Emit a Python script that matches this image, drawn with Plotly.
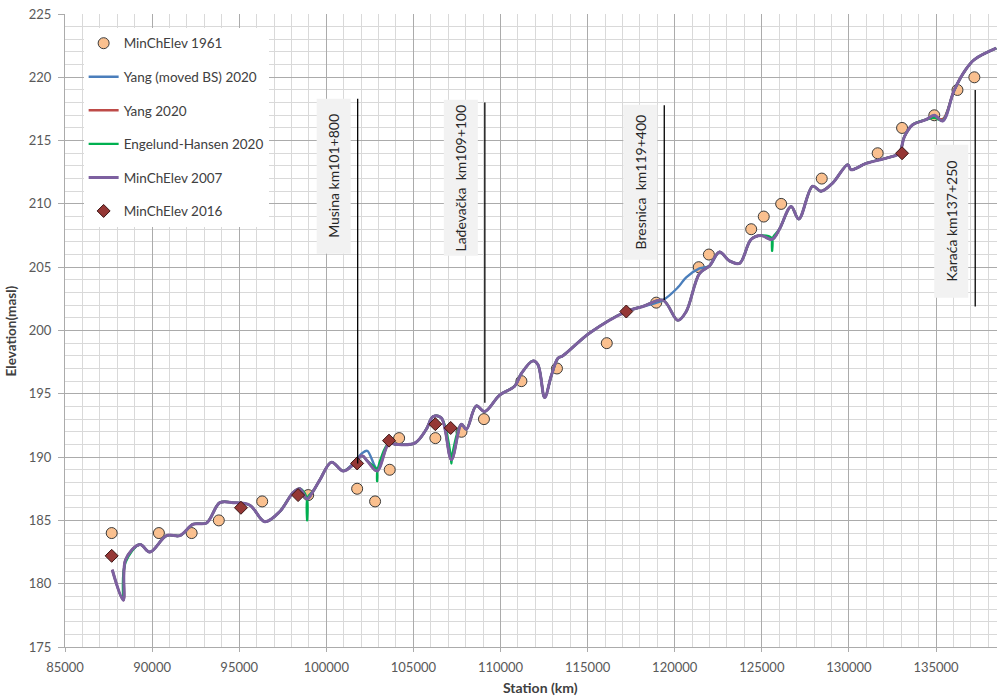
import plotly.graph_objects as go

# ---- thalweg profiles (station in m, elevation in m a.s.l.) ----
STATION = [87713, 88345, 88480, 89300, 89875, 90830, 91600, 92360, 93125, 93890,
           94655, 95610, 96470, 97330, 98095, 98480, 98900, 99240, 99630, 100300,
           100965, 101540, 102050, 102350, 102915, 103600, 104025, 105075, 105740, 106125,
           106600, 107180, 107755, 108040, 108610, 109090, 109950, 110810, 111195, 111860,
           112150, 112535, 112910, 113295, 113580, 115115, 117215, 118170, 119320, 120180,
           120660, 121420, 121995, 122570, 123140, 123720, 124385, 124960, 125590, 126010,
           126680, 127120, 127920, 128400, 129070, 129930, 130125, 130985, 132510, 132895,
           133180, 133660, 134425, 134900, 135380, 136050, 136700, 137200, 138460]

ELEV_2007 = [181.1, 178.7, 181.9, 183.1, 182.5, 183.8, 183.8, 184.7, 184.8, 186.4,
             186.4, 186.2, 184.9, 185.7, 187.2, 187.5, 186.7, 187.3, 188.2, 189.6,
             188.9, 189.4, 190.1, 189.7, 188.9, 191.1, 191.0, 191.1, 192.2, 193.2,
             193.1, 189.8, 192.6, 192.2, 194.05, 193.6, 194.9, 195.6, 196.6, 197.6,
             197.3, 194.7, 196.4, 197.8, 198.0, 199.8, 201.5, 201.9, 202.4, 200.8,
             201.5, 204.5, 205.1, 206.2, 205.5, 205.3, 207.2, 207.5, 207.2, 208.0,
             209.8, 208.8, 211.4, 211.0, 211.65, 213.1, 212.7, 213.2, 213.75, 214.0,
             215.3, 216.25, 216.65, 217.0, 216.55, 219.0, 220.6, 221.4, 222.3]

ELEV_YANG_2020 = [181.1, 178.7, 181.9, 183.1, 182.5, 183.8, 183.8, 184.7, 184.8, 186.4,
                  186.4, 186.2, 184.9, 185.7, 187.2, 187.5, 186.7, 187.3, 188.2, 189.6,
                  188.9, 189.4, 190.1, 189.7, 188.9, 191.1, 191.0, 191.1, 192.2, 193.2,
                  193.1, 189.8, 192.6, 192.2, 194.05, 193.6, 194.9, 195.6, 196.6, 197.6,
                  197.3, 194.7, 196.4, 197.8, 198.0, 199.8, 201.5, 201.9, 202.4, 200.8,
                  201.5, 204.5, 205.1, 206.2, 205.5, 205.3, 207.2, 207.5, 207.2, 208.0,
                  209.8, 208.8, 211.4, 211.0, 211.65, 213.1, 212.7, 213.2, 213.75, 214.0,
                  215.3, 216.25, 216.65, 216.9, 216.7, 219.0, 220.6, 221.4, 222.3]

ELEV_YANG_MOVED_2020 = [181.1, 178.7, 181.9, 183.1, 182.5, 183.8, 183.8, 184.7, 184.8, 186.4,
                        186.4, 186.2, 184.9, 185.7, 187.2, 187.5, 186.7, 187.3, 188.2, 189.6,
                        188.9, 189.5, 190.3, 190.5, 189.1, 191.1, 191.0, 191.1, 192.2, 193.2,
                        193.1, 189.8, 192.6, 192.2, 194.05, 193.6, 194.9, 195.6, 196.6, 197.6,
                        197.3, 194.7, 196.4, 197.8, 198.0, 199.8, 201.5, 201.9, 202.4, 203.4,
                        204.2, 204.9, 205.1, 206.2, 205.5, 205.3, 207.2, 207.5, 207.2, 208.0,
                        209.8, 208.8, 211.4, 211.0, 211.65, 213.1, 212.7, 213.2, 213.75, 214.0,
                        215.3, 216.25, 216.65, 217.0, 216.55, 219.0, 220.6, 221.4, 222.3]

# Engelund-Hansen run has its own, denser station list around the local scour pits
STATION_EH = [88345, 88480, 89300, 89875, 90830, 91600, 92360, 93125, 93890,
              94655, 95610, 96470, 97330, 98095, 98480, 98870, 98900, 98930, 99240, 99630, 100300,
              100965, 101540, 102050, 102350, 102885, 102915, 102945, 103600, 104025, 105075, 105740, 106125,
              106600, 107150, 107180, 107210, 107755, 108040, 108610, 109090, 109950, 110810, 111195, 111860,
              112150, 112535, 112910, 113295, 113580, 115115, 117215, 118170, 119320, 120180,
              120660, 121420, 121995, 122570, 123140, 123720, 124385, 124960, 125560, 125590, 125620, 126010,
              126680, 127120, 127920, 128400, 129070, 129930, 130125, 130985, 132510, 132895,
              133180, 133660, 134425, 134900, 135380, 136050, 136700, 137200, 138460]

ELEV_EH_2020 = [178.8, 181.7, 183.1, 182.5, 183.8, 183.8, 184.7, 184.8, 186.4,
                186.4, 186.2, 184.9, 185.7, 187.2, 187.5, 186.8, 185.0, 186.8, 187.3, 188.2, 189.6,
                188.9, 189.4, 190.1, 189.7, 189.0, 188.1, 189.0, 191.1, 191.0, 191.1, 192.2, 193.2,
                193.1, 190.0, 189.5, 190.0, 192.6, 192.2, 194.05, 193.6, 194.9, 195.6, 196.6, 197.6,
                197.3, 194.7, 196.4, 197.8, 198.0, 199.8, 201.5, 201.9, 202.4, 200.8,
                201.5, 204.5, 205.1, 206.2, 205.5, 205.3, 207.2, 207.5, 207.3, 206.3, 207.3, 208.0,
                209.8, 208.8, 211.4, 211.0, 211.65, 213.1, 212.7, 213.2, 213.75, 214.0,
                215.3, 216.25, 216.65, 216.8, 216.6, 219.0, 220.6, 221.4, 222.3]

# ---- surveyed minimum channel elevations ----
ST_1961 = [87680, 90390, 92270, 93830, 96320, 98960, 101770, 102800, 103640, 104180,
           106260, 107760, 109050, 111200, 113240, 116100, 118940, 121380, 121960, 124390,
           125110, 126110, 128440, 131650, 133050, 134900, 136230, 137200]
EL_1961 = [184.0, 184.0, 184.0, 185.0, 186.5, 187.0, 187.5, 186.5, 189.0, 191.5,
           191.5, 192.0, 193.0, 196.0, 197.0, 199.0, 202.2, 205.0, 206.0, 208.0,
           209.0, 210.0, 212.0, 214.0, 216.0, 217.0, 219.0, 220.0]

ST_2016 = [87680, 95100, 98380, 101770, 103600, 106260, 107140, 117220, 133050]
EL_2016 = [182.2, 186.0, 187.0, 189.5, 191.3, 192.6, 192.3, 201.5, 214.0]

# ---- bridges ----
BRIDGE_NAMES = ["Musina km101+800", "Lađevačka  km109+100", "Bresnica  km119+400", "Karaća km137+250"]
BRIDGE_ST = [101800, 109100, 119400, 137250]

FONT = "Lato"
TXT = "#404040"

fig = go.Figure()

fig.add_trace(go.Scatter(
    x=ST_1961, y=EL_1961, mode="markers", name="MinChElev 1961", legendgroup="a",
    marker=dict(symbol="circle", size=11, color="#FAC08F", line=dict(color="#3a3a3a", width=1))))

line_series = [
    ("Yang (moved BS) 2020", STATION, ELEV_YANG_MOVED_2020, "#4A7EBB", 2.4, "b"),
    ("Yang 2020", STATION, ELEV_YANG_2020, "#BE4B48", 2.4, "c"),
    ("Engelund-Hansen 2020", STATION_EH, ELEV_EH_2020, "#00B050", 2.4, "d"),
    ("MinChElev 2007", STATION, ELEV_2007, "#7D60A0", 3.0, "e"),
]
for name, st, elev, color, width, grp in line_series:
    fig.add_trace(go.Scatter(
        x=st, y=elev, mode="lines", name=name, legendgroup=grp,
        line=dict(color=color, width=width, shape="spline", smoothing=1.0)))

fig.add_trace(go.Scatter(
    x=ST_2016, y=EL_2016, mode="markers", name="MinChElev 2016", legendgroup="f",
    marker=dict(symbol="diamond", size=10, color="#953735", line=dict(color="#3a1414", width=1))))

# bridge marker lines with their label boxes
bridge_line_span = [(189.5, 218.3), (194.3, 218.0), (202.4, 217.8), (201.9, 219.0)]
bridge_box_span = [(99, 254), (100, 256), (105, 260), (145, 298)]
for name, st, (y0, y1), (b0, b1) in zip(BRIDGE_NAMES, BRIDGE_ST, bridge_line_span, bridge_box_span):
    fig.add_shape(type="line", x0=st, x1=st, y0=y0, y1=y1, xref="x", yref="y",
                  line=dict(color="#000000", width=1.3), layer="above")
    yt = 175 + (647.3 - b0) / 12.66
    yb = 175 + (647.3 - b1) / 12.66
    fig.add_shape(type="rect", xref="x", yref="y", xsizemode="pixel", xanchor=st,
                  x0=-41, x1=-7, y0=yb, y1=yt, fillcolor="#F2F2F2",
                  line=dict(width=0), layer="above")
    fig.add_annotation(x=st, y=(yt + yb) / 2, xref="x", yref="y", text=name,
                       textangle=-90, showarrow=False, xshift=-24,
                       font=dict(family=FONT, size=14, color="#262626"))

# axis titles
fig.add_annotation(x=-0.058, y=0.5, xref="paper", yref="paper", text="<b>Elevation(masl)</b>",
                   textangle=-90, showarrow=False, xanchor="center", yanchor="middle",
                   font=dict(family=FONT, size=13.5, color=TXT))
fig.add_annotation(x=0.51, y=-0.064, xref="paper", yref="paper", text="<b>Station (km)</b>",
                   showarrow=False, xanchor="center", yanchor="middle",
                   font=dict(family=FONT, size=14, color=TXT))

MAJOR = "#ABABAB"
MINOR = "#D9D9D9"

fig.update_layout(
    width=1000, height=697,
    margin=dict(l=65, r=3, t=14, b=50),
    paper_bgcolor="white", plot_bgcolor="white",
    font=dict(family=FONT, size=13, color=TXT),
    showlegend=True,
    legend=dict(x=0.02, y=0.978, xanchor="left", yanchor="top",
                bgcolor="white", borderwidth=0, tracegroupgap=13,
                font=dict(family=FONT, size=13.5, color=TXT)),
    xaxis=dict(range=[85000, 138500], dtick=5000, tick0=85000, showgrid=True,
               gridcolor=MAJOR, gridwidth=1,
               minor=dict(dtick=1000, showgrid=True, gridcolor=MINOR, gridwidth=1),
               showline=True, linecolor=MAJOR, linewidth=1,
               ticks="outside", ticklen=4, tickcolor=MAJOR,
               tickfont=dict(family=FONT, size=13, color="#595959"),
               ticklabelstandoff=4, zeroline=False, tickformat="d"),
    yaxis=dict(range=[175, 225], dtick=5, tick0=175, showgrid=True,
               gridcolor=MAJOR, gridwidth=1,
               minor=dict(dtick=1, showgrid=True, gridcolor=MINOR, gridwidth=1),
               showline=True, linecolor=MAJOR, linewidth=1,
               ticks="outside", ticklen=6, tickcolor=MAJOR,
               tickfont=dict(family=FONT, size=13, color="#595959"),
               ticklabelstandoff=4, zeroline=False),
)

fig.write_html("out.html")
